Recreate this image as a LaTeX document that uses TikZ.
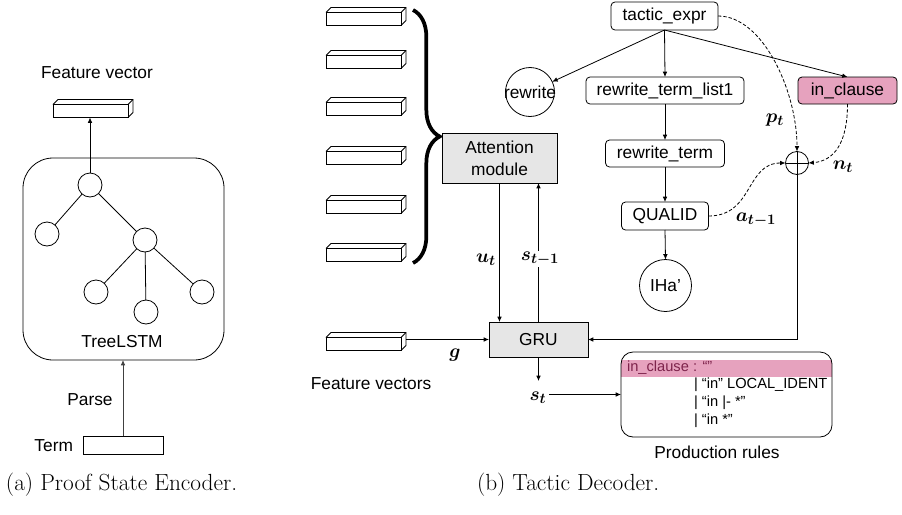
\documentclass[tikz,border=0pt]{standalone}
\usepackage{fontspec}
\usepackage{bm}
\newfontfamily\arial{Liberation Sans}
\usetikzlibrary{arrows.meta,decorations.pathreplacing,calc}
\definecolor{pinkf}{RGB}{230,162,190}
\definecolor{pinkt}{RGB}{125,35,75}
\definecolor{grayf}{RGB}{230,230,230}
\newcommand\prismfaces[1]{%
  \draw[line width=0.6pt,line join=round] (#1.north west) -- ++(5,-5) -- ($(#1.north east)+(5,-5)$) -- ($(#1.south east)+(5,-5)$) -- (#1.south east);
  \draw[line width=0.6pt] (#1.north east) -- ++(5,-5);}
\begin{document}
\begin{tikzpicture}[x=0.75pt,y=-0.75pt,
  every node/.style={inner sep=0pt, outer sep=0pt, font=\arial\fontsize{13}{15.5}\selectfont},
  myline/.style={line width=0.6pt},
  myarr/.style={line width=0.6pt,-{Latex[length=4pt,width=3.5pt]}},
  dasharr/.style={myarr,dash pattern=on 2.5pt off 1.5pt},
  tnode/.style={draw,line width=0.6pt,rounded corners=3pt,minimum height=20.25pt},
  vecbox/.style={draw,line width=0.6pt,fill=white,minimum width=56.25pt,minimum height=9.75pt},
  tcirc/.style={draw,circle,line width=0.6pt,minimum size=18pt},
  mlab/.style={font=\fontsize{15.5}{17}\selectfont},
  rulestyle/.style={anchor=west,font=\arial\fontsize{11}{13}\selectfont},
  captionstyle/.style={anchor=west,font=\fontsize{17.5}{20}\selectfont},
]
\useasboundingbox (0,0) rectangle (902,514);

% ---------------- (a) Proof State Encoder ----------------
\node (fvlabel) at (97,73) {Feature vector};
\node[vecbox] (fv0) at (90.5,111) {};
\prismfaces{fv0}
\node[draw,line width=0.6pt,rounded corners=22.5pt,minimum width=150.75pt,minimum height=151.5pt] (enc) at (123.5,259) {};
\node[tcirc] (t1) at (90,185) {};
\node[tcirc] (t2) at (47,234) {};
\node[tcirc] (t3) at (145,240) {};
\node[tcirc] (t4) at (96,292) {};
\node[tcirc] (t5) at (146,312) {};
\node[tcirc] (t6) at (202,292) {};
\draw[myline] (t1) -- (t2);
\draw[myline] (t1) -- (t3);
\draw[myline] (t3) -- (t4);
\draw[myline] (t3) -- (t5);
\draw[myline] (t3) -- (t6);
\draw[myarr] (t1.north) -- (t1.north |- fv0.south);
\node (tl) at (122,342) {TreeLSTM};
\node[draw,line width=0.6pt,minimum width=60pt,minimum height=13.5pt] (term) at (123,445) {};
\node[anchor=east] (termlbl) at (73,446) {Term};
\node (parse) at (90,400) {Parse};
\draw[myarr,draw=black!75] (term.north) -- (term.north |- enc.south);
\node[captionstyle] (capa) at (6,485) {(a) Proof State Encoder.};

% ---------------- (b) Tactic Decoder ----------------
\foreach \i/\y in {1/19,2/62,3/109,4/158,5/207,6/255}{
  \node[vecbox] (v\i) at (363.5,\y) {};
  \prismfaces{v\i}
}
\draw[line width=2.8pt,decorate,decoration={brace,amplitude=20pt}] (413,10) -- (413,263);

\node[draw,line width=0.6pt,fill=grayf,minimum width=86.25pt,minimum height=37.5pt,align=center,font=\arial\fontsize{13}{16.5}\selectfont] (att) at (499.5,158) {Attention\\module};
\node[draw,line width=0.6pt,fill=grayf,minimum width=74.25pt,minimum height=26.25pt] (gru) at (538.5,339.5) {GRU};

\draw[myarr] (att.south) -- (att.south |- gru.north);
\node[mlab] (ut) at (486,260) {$\bm{u_t}$};
\draw[myarr] (gru.north) -- (gru.north |- att.south);
\node[mlab,fill=white,inner sep=1pt] (stm) at (540,259) {$\bm{s_{t-1}}$};

\node[vecbox] (fvg) at (363.5,344) {};
\prismfaces{fvg}
\coordinate (fvgR) at ($(fvg.east)+(5,0)$);
\draw[myarr] (fvgR |- gru.west) -- (gru.west);
\node[mlab] (g) at (455,355) {$\bm{g}$};
\node (fvs) at (371,384) {Feature vectors};

\node[mlab] (st) at (538,398) {$\bm{s_t}$};
\coordinate (stt) at (538.5,381);
\draw[myarr] (gru.south) -- (gru.south |- stt);

% production rules
\node[fill=pinkf,minimum width=158.25pt,minimum height=12.75pt] (band) at (726.5,368.5) {};
\node[draw,line width=0.6pt,rounded corners=9pt,minimum width=158.25pt,minimum height=63.75pt] (rules) at (726.5,394.5) {};
\draw[myarr] ([xshift=2pt]st.east |- rules.west) -- (rules.west);
\node[rulestyle,text=pinkt] (r0) at (627,368) {in\_clause : “”};
\node[rulestyle] (r1) at (694,385) {| “in” LOCAL\_IDENT};
\node[rulestyle] (r2) at (694,403) {| “in |- *”};
\node[rulestyle] (r3) at (694,421) {| “in *”};
\node (prl) at (717,452) {Production rules};

% syntax tree
\node[tnode,minimum width=80.25pt,minimum height=21pt] (te) at (664.5,16) {tactic\_expr};
\node[tnode,minimum width=118.5pt] (rtl) at (665,90.5) {rewrite\_term\_list1};
\node[tnode,minimum width=74.25pt,fill=pinkf] (ic) at (847.5,90.5) {in\_clause};
\node[tnode,minimum width=89.25pt] (rt) at (665,153.5) {rewrite\_term};
\node[tnode,minimum width=65.25pt,minimum height=21pt] (q) at (665,216) {QUALID};
\node[draw,circle,line width=0.6pt,minimum size=39pt] (iha) at (665.5,285.5) {IHa’};
\node[draw,circle,line width=0.6pt,minimum size=36.75pt] (rw) at (530,92) {};
\node (rwlbl) at (rw) {rewrite};
\node[draw,circle,line width=0.6pt,minimum size=17.25pt] (op) at (797,163) {};
\draw[myline] (op.north) -- (op.south) (op.west) -- (op.east);

\draw[myarr] (te.south) -- (rw);
\draw[myarr] (te.south) -- (rtl.north);
\draw[myarr] (te.south) -- (ic.north);
\draw[myarr] (rtl.south) -- (rt.north);
\draw[myarr] (rt.south) -- (q.north);
\draw[myarr] (q.south) -- (iha.north);
\draw[myarr] (op.south) |- (gru.east);

\draw[dasharr] (te.east) .. controls +(45,0) and +(0,-60) .. (op.north);
\draw[dasharr] (ic.south) .. controls +(0,40) and +(25,-2) .. (op.east);
\draw[dasharr] (q.east) .. controls +(45,0) and +(-40,0) .. (op.west);
\node[mlab] (pt) at (775,120) {$\bm{p_t}$};
\node[mlab] (nt) at (843,167) {$\bm{n_t}$};
\node[mlab] (at) at (756,220) {$\bm{a_{t-1}}$};

\node[captionstyle] (capb) at (477,485) {(b) Tactic Decoder.};
\end{tikzpicture}
\end{document}
